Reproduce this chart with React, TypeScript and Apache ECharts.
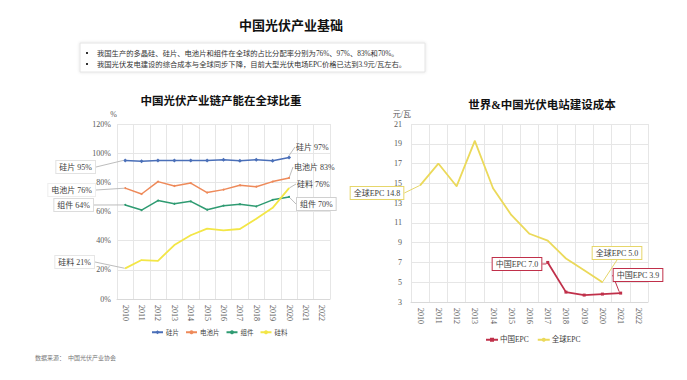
import React, { useEffect, useRef } from "react";
import * as echarts from "echarts";

const years = ["2010", "2011", "2012", "2013", "2014", "2015", "2016", "2017", "2018", "2019", "2020", "2021", "2022"];
const shareSeriesNames = ["硅片", "电池片", "组件", "硅料"];
const waferShare = [95, 94.5, 95, 95, 95, 95, 95.5, 94.8, 95.5, 94.8, 97];
const cellShare = [76, 72, 80.5, 77.5, 79.5, 73, 75, 78, 77, 80.5, 83];
const moduleShare = [64.5, 61, 67.5, 65.3, 67, 61.2, 64, 65, 63.5, 68, 70];
const polyShare = [21, 26.7, 26.2, 37, 43.7, 48.3, 47, 48, 55, 62.5, 76];
const shareTicks = [0, 20, 40, 60, 80, 100, 120];

const costSeriesNames = ["中国EPC", "全球EPC"];
const chinaEpc = [null, null, null, null, null, null, null, 7.0, 4.0, 3.7, 3.8, 3.9];
const globalEpc = [14.8, 17.0, 14.7, 19.3, 14.5, 11.8, 9.9, 9.2, 7.4, 6.2, 5.0];

const pageTitle = "中国光伏产业基础";
const bullets = [
  "我国生产的多晶硅、硅片、电池片和组件在全球的占比分配率分别为76%、97%、83%和70%。",
  "我国光伏发电建设的综合成本与全球同步下降，目前大型光伏电场EPC价格已达到3.9元/瓦左右。",
];
const leftTitle = "中国光伏产业链产能在全球比重";
const rightTitle = "世界&中国光伏电站建设成本";
const sourceText = "数据来源：  中国光伏产业协会";

const FONT = "'Liberation Serif', 'Noto Sans CJK SC', serif";

type Mark = { i: number; text: string; x: number; y: number; align: string; box?: string };

function buildData(values: (number | null)[], marks: Mark[]) {
  return values.map((v, i) => {
    const m = marks.find((k) => k.i === i);
    if (!m) return v;
    return {
      value: v,
      label: {
        show: true,
        formatter: m.text,
        color: "#404040",
        fontSize: 8,
        fontFamily: FONT,
        backgroundColor: m.box ? "#fff" : "transparent",
        borderColor: m.box || "transparent",
        borderWidth: m.box ? 1 : 0,
        padding: m.box ? [2, 3] : [0, 1],
      },
    };
  });
}

function layoutFor(marks: Mark[]) {
  return (p: any) => {
    const m = marks.find((k) => k.i === p.dataIndex);
    if (!m) return {};
    return { x: m.x, y: m.y, align: m.align, verticalAlign: "middle" };
  };
}

const waferMarks: Mark[] = [
  { i: 0, text: "硅片 95%", x: 95, y: 167, align: "right", box: "#e2e2e2" },
  { i: 10, text: "硅片 97%", x: 295, y: 147, align: "left" },
];
const cellMarks: Mark[] = [
  { i: 0, text: "电池片 76%", x: 95, y: 190, align: "right", box: "#eeeeee" },
  { i: 10, text: "电池片 83%", x: 293, y: 167, align: "left" },
];
const moduleMarks: Mark[] = [
  { i: 0, text: "组件 64%", x: 93, y: 205, align: "right", box: "#dcdcdc" },
  { i: 10, text: "组件 70%", x: 297, y: 204, align: "left", box: "#d0d0d0" },
];
const polyMarks: Mark[] = [
  { i: 0, text: "硅料 21%", x: 94, y: 262, align: "right", box: "#e6e6e6" },
  { i: 10, text: "硅料 76%", x: 296, y: 184, align: "left" },
];
const chinaMarks: Mark[] = [
  { i: 7, text: "中国EPC 7.0", x: 517, y: 264, align: "center", box: "#c0304a" },
  { i: 11, text: "中国EPC 3.9", x: 638, y: 275, align: "center", box: "#c0304a" },
];
const globalMarks: Mark[] = [
  { i: 0, text: "全球EPC 14.8", x: 377, y: 193, align: "center", box: "#e6d66a" },
  { i: 10, text: "全球EPC 5.0", x: 617, y: 253, align: "center", box: "#e6d66a" },
];

export default function App() {
  const ref = useRef<HTMLDivElement>(null);
  useEffect(() => {
    if (!ref.current) return;
    const chart = echarts.init(ref.current, undefined, { renderer: "svg" });
    const axisLabel = { color: "#595959", fontSize: 8, fontFamily: FONT };
    const guide = { show: true, lineStyle: { color: "#bdbdbd", width: 1 } };
    const option: any = {
      animation: false,
      backgroundColor: "#fff",
      textStyle: { fontFamily: FONT },
      grid: [
        { left: 117, right: 687 - 330, top: 124, bottom: 380 - 299 },
        { left: 411, right: 687 - 648, top: 124, bottom: 380 - 302 },
      ],
      xAxis: [
        {
          gridIndex: 0,
          type: "category",
          data: years,
          boundaryGap: true,
          axisLine: { lineStyle: { color: "#d9d9d9" } },
          axisTick: { show: false },
          splitLine: { show: true, lineStyle: { color: "#e6e6e6" } },
          axisLabel: { ...axisLabel, rotate: -90, interval: 0, margin: 6 },
        },
        {
          gridIndex: 1,
          type: "category",
          data: years,
          boundaryGap: true,
          axisLine: { lineStyle: { color: "#d9d9d9" } },
          axisTick: { show: false },
          splitLine: { show: true, lineStyle: { color: "#e6e6e6" } },
          axisLabel: { ...axisLabel, rotate: -90, interval: 0, margin: 6 },
        },
      ],
      yAxis: [
        {
          gridIndex: 0,
          type: "value",
          min: shareTicks[0],
          max: shareTicks[shareTicks.length - 1],
          interval: 20,
          name: "%",
          nameGap: 6,
          nameTextStyle: { color: "#595959", fontSize: 8, align: "right", fontFamily: FONT },
          axisLine: { show: false },
          axisTick: { show: false },
          splitLine: { lineStyle: { color: "#e6e6e6" } },
          axisLabel: { ...axisLabel, formatter: "{value}%", margin: 6 },
        },
        {
          gridIndex: 1,
          type: "value",
          min: 3,
          max: 21,
          interval: 2,
          name: "元/瓦",
          nameGap: 6,
          nameTextStyle: { color: "#595959", fontSize: 8, align: "right", fontFamily: FONT },
          axisLine: { show: false },
          axisTick: { show: false },
          splitLine: { lineStyle: { color: "#e6e6e6" } },
          axisLabel: { ...axisLabel, margin: 9 },
        },
      ],
      legend: [
        {
          data: shareSeriesNames,
          left: 146,
          top: 324,
          itemWidth: 11,
          itemHeight: 5,
          itemGap: 6,
          textStyle: { color: "#404040", fontSize: 6.5, fontFamily: FONT, padding: [0, 0, 0, -2] },
        },
        {
          data: costSeriesNames,
          left: 480,
          top: 331,
          itemWidth: 12,
          itemHeight: 5,
          itemGap: 8,
          textStyle: { color: "#404040", fontSize: 7.5, fontFamily: FONT, padding: [0, 0, 0, -3] },
        },
      ],
      series: [
        {
          name: shareSeriesNames[0],
          type: "line",
          xAxisIndex: 0,
          yAxisIndex: 0,
          data: buildData(waferShare, waferMarks),
          color: "#4a6fb8",
          lineStyle: { width: 1.5 },
          symbol: "diamond",
          symbolSize: 4,
          labelLayout: layoutFor(waferMarks),
          labelLine: guide,
        },
        {
          name: shareSeriesNames[1],
          type: "line",
          xAxisIndex: 0,
          yAxisIndex: 0,
          data: buildData(cellShare, cellMarks),
          color: "#ee8a5a",
          lineStyle: { width: 1.5 },
          symbol: "circle",
          symbolSize: 2,
          labelLayout: layoutFor(cellMarks),
          labelLine: guide,
        },
        {
          name: shareSeriesNames[2],
          type: "line",
          xAxisIndex: 0,
          yAxisIndex: 0,
          data: buildData(moduleShare, moduleMarks),
          color: "#2f9b72",
          lineStyle: { width: 1.5 },
          symbol: "circle",
          symbolSize: 2,
          labelLayout: layoutFor(moduleMarks),
          labelLine: guide,
        },
        {
          name: shareSeriesNames[3],
          type: "line",
          xAxisIndex: 0,
          yAxisIndex: 0,
          data: buildData(polyShare, polyMarks),
          color: "#f3e646",
          lineStyle: { width: 1.8 },
          symbol: "circle",
          symbolSize: 1,
          showSymbol: true,
          labelLayout: layoutFor(polyMarks),
          labelLine: guide,
        },
        {
          name: costSeriesNames[0],
          type: "line",
          xAxisIndex: 1,
          yAxisIndex: 1,
          data: buildData(chinaEpc, chinaMarks),
          color: "#c0304a",
          lineStyle: { width: 1.8 },
          symbol: "rect",
          symbolSize: 3,
          labelLayout: layoutFor(chinaMarks),
          labelLine: { show: true, lineStyle: { color: "#c0304a", width: 1 } },
          z: 3,
        },
        {
          name: costSeriesNames[1],
          type: "line",
          xAxisIndex: 1,
          yAxisIndex: 1,
          data: buildData(globalEpc, globalMarks),
          color: "#ebd95a",
          lineStyle: { width: 1.8 },
          symbol: "circle",
          symbolSize: 1,
          showSymbol: true,
          labelLayout: layoutFor(globalMarks),
          labelLine: { show: true, lineStyle: { color: "#e6d66a", width: 1 } },
        },
      ],
      graphic: [
        {
          type: "text",
          x: 291,
          y: 25,
          style: {
            text: pageTitle,
            fontSize: 13,
            fontWeight: "bold",
            fill: "#111",
            align: "center",
            verticalAlign: "middle",
            fontFamily: FONT,
          },
        },
        {
          type: "rect",
          shape: { x: 80, y: 43, width: 345, height: 29 },
          style: { fill: "#fff", stroke: "#e4e4e4", lineWidth: 1, shadowBlur: 3, shadowColor: "rgba(0,0,0,0.12)" },
        },
        ...bullets.flatMap((b, k) => [
          {
            type: "rect",
            shape: { x: 86, y: 52 + k * 11, width: 2, height: 2 },
            style: { fill: "#333" },
          },
          {
            type: "text",
            x: 97,
            y: 53 + k * 11,
            style: { text: b, fontSize: 7.3, fill: "#333", verticalAlign: "middle", fontFamily: FONT },
          },
        ]),
        {
          type: "text",
          x: 221,
          y: 101,
          style: {
            text: leftTitle,
            fontSize: 11.5,
            fontWeight: "bold",
            fill: "#111",
            align: "center",
            verticalAlign: "middle",
            fontFamily: FONT,
          },
        },
        {
          type: "text",
          x: 542,
          y: 105,
          style: {
            text: rightTitle,
            fontSize: 11.5,
            fontWeight: "bold",
            fill: "#111",
            align: "center",
            verticalAlign: "middle",
            fontFamily: FONT,
          },
        },
        {
          type: "text",
          x: 35,
          y: 358,
          style: { text: sourceText, fontSize: 6, fill: "#777", verticalAlign: "middle", fontFamily: FONT },
        },
      ],
    };
    chart.setOption(option);
    return () => chart.dispose();
  }, []);
  return <div ref={ref} style={{ width: 687, height: 380, margin: -8 }} />;
}
